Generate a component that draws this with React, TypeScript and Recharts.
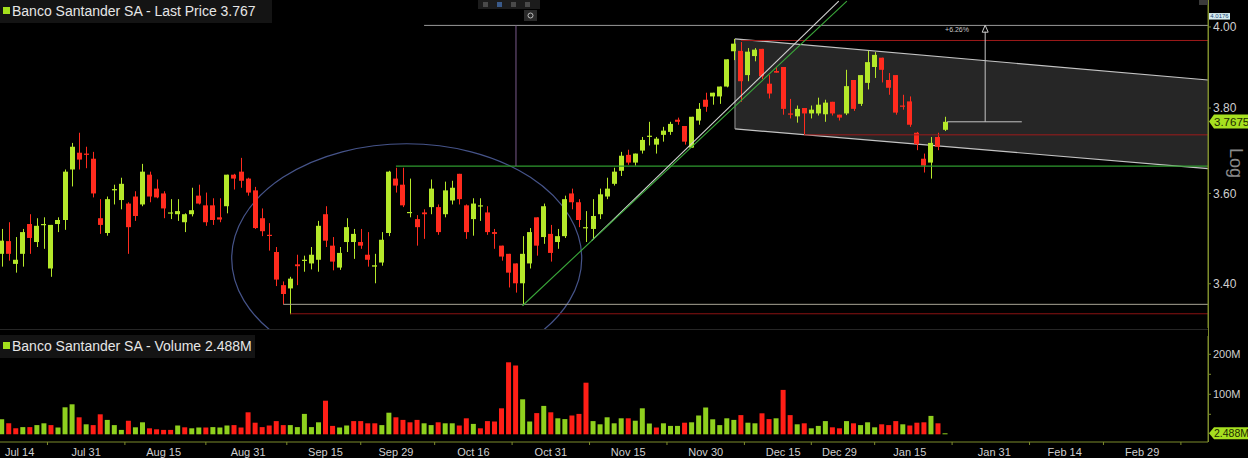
import React from 'react';
import { ComposedChart, Bar, XAxis, YAxis, Cell, ReferenceLine, ReferenceArea, ReferenceDot } from 'recharts';

// ---------------- DATA ----------------
const OPEN = [
  3.465, 3.493, 3.443, 3.465, 3.531, 3.491, 3.529, 3.433, 3.531, 3.540,
  3.655, 3.694, 3.692, 3.680, 3.544, 3.511, 3.607, 3.585, 3.577, 3.593,
  3.575, 3.643, 3.611, 3.600, 3.555, 3.553, 3.535, 3.553, 3.595, 3.573,
  3.573, 3.546, 3.571, 3.643, 3.650, 3.634, 3.607, 3.544, 3.507, 3.469,
  3.397, 3.390, 3.442, 3.450, 3.444, 3.452, 3.553, 3.483, 3.435, 3.491,
  3.491, 3.491, 3.463, 3.437, 3.446, 3.511, 3.634, 3.620, 3.557, 3.542,
  3.557, 3.569, 3.569, 3.553, 3.584, 3.645, 3.573, 3.542, 3.571, 3.557,
  3.513, 3.483, 3.465, 3.444, 3.401, 3.444, 3.546, 3.502, 3.509, 3.491,
  3.504, 3.600, 3.580, 3.522, 3.520, 3.553, 3.593, 3.622, 3.652, 3.689,
  3.671, 3.699, 3.732, 3.713, 3.736, 3.743, 3.772, 3.757, 3.706, 3.770,
  3.820, 3.828, 3.828, 3.852, 3.939, 3.940, 3.880, 3.927, 3.945, 3.859,
  3.890, 3.900, 3.787, 3.780, 3.800, 3.787, 3.787, 3.785, 3.815, 3.784,
  3.787, 3.868, 3.810, 3.861, 3.900, 3.923, 3.868, 3.880, 3.806, 3.816,
  3.741, 3.680, 3.671, 3.731, 3.748,
];
const HIGH = [
  3.520, 3.535, 3.502, 3.520, 3.553, 3.544, 3.546, 3.529, 3.546, 3.655,
  3.717, 3.741, 3.708, 3.696, 3.587, 3.593, 3.620, 3.636, 3.580, 3.605,
  3.668, 3.650, 3.632, 3.605, 3.587, 3.587, 3.555, 3.613, 3.620, 3.602,
  3.589, 3.589, 3.643, 3.645, 3.682, 3.636, 3.615, 3.566, 3.533, 3.480,
  3.405, 3.415, 3.463, 3.461, 3.480, 3.538, 3.571, 3.502, 3.480, 3.544,
  3.520, 3.520, 3.513, 3.465, 3.513, 3.652, 3.659, 3.659, 3.634, 3.551,
  3.564, 3.632, 3.575, 3.627, 3.629, 3.645, 3.575, 3.589, 3.589, 3.571,
  3.520, 3.483, 3.465, 3.444, 3.504, 3.522, 3.546, 3.577, 3.529, 3.520,
  3.595, 3.611, 3.587, 3.560, 3.587, 3.611, 3.636, 3.659, 3.696, 3.701,
  3.692, 3.731, 3.767, 3.731, 3.755, 3.767, 3.777, 3.757, 3.779, 3.812,
  3.837, 3.837, 3.852, 3.919, 3.970, 3.962, 3.947, 3.947, 3.945, 3.880,
  3.900, 3.900, 3.822, 3.806, 3.800, 3.806, 3.825, 3.820, 3.815, 3.784,
  3.893, 3.868, 3.880, 3.940, 3.937, 3.923, 3.885, 3.880, 3.832, 3.828,
  3.743, 3.692, 3.731, 3.741, 3.779,
];
const LOW = [
  3.437, 3.450, 3.424, 3.437, 3.465, 3.480, 3.476, 3.415, 3.513, 3.518,
  3.616, 3.655, 3.658, 3.591, 3.509, 3.505, 3.575, 3.564, 3.465, 3.538,
  3.571, 3.580, 3.589, 3.544, 3.542, 3.538, 3.513, 3.548, 3.575, 3.527,
  3.529, 3.535, 3.555, 3.609, 3.613, 3.595, 3.520, 3.504, 3.472, 3.395,
  3.356, 3.335, 3.397, 3.426, 3.431, 3.426, 3.480, 3.429, 3.430, 3.469,
  3.454, 3.476, 3.437, 3.401, 3.439, 3.504, 3.602, 3.569, 3.546, 3.483,
  3.498, 3.553, 3.507, 3.546, 3.575, 3.575, 3.498, 3.505, 3.538, 3.507,
  3.476, 3.450, 3.392, 3.381, 3.354, 3.433, 3.461, 3.487, 3.448, 3.476,
  3.500, 3.564, 3.524, 3.491, 3.498, 3.542, 3.587, 3.618, 3.640, 3.666,
  3.664, 3.692, 3.711, 3.692, 3.720, 3.736, 3.760, 3.713, 3.706, 3.760,
  3.791, 3.808, 3.810, 3.850, 3.917, 3.815, 3.865, 3.914, 3.870, 3.823,
  3.886, 3.784, 3.775, 3.765, 3.736, 3.775, 3.782, 3.767, 3.782, 3.770,
  3.783, 3.793, 3.805, 3.845, 3.873, 3.862, 3.832, 3.784, 3.796, 3.755,
  3.700, 3.648, 3.634, 3.700, 3.745,
];
const CLOSE = [
  3.494, 3.465, 3.452, 3.513, 3.500, 3.527, 3.531, 3.529, 3.540, 3.650,
  3.708, 3.678, 3.689, 3.600, 3.529, 3.587, 3.610, 3.622, 3.524, 3.549,
  3.650, 3.593, 3.591, 3.566, 3.557, 3.560, 3.553, 3.562, 3.577, 3.535,
  3.540, 3.541, 3.643, 3.634, 3.629, 3.602, 3.522, 3.515, 3.505, 3.409,
  3.378, 3.411, 3.438, 3.452, 3.463, 3.527, 3.494, 3.448, 3.467, 3.524,
  3.509, 3.483, 3.452, 3.440, 3.496, 3.650, 3.618, 3.573, 3.558, 3.524,
  3.553, 3.611, 3.513, 3.607, 3.613, 3.587, 3.513, 3.577, 3.573, 3.513,
  3.509, 3.459, 3.424, 3.401, 3.465, 3.513, 3.483, 3.571, 3.467, 3.504,
  3.587, 3.580, 3.540, 3.524, 3.549, 3.598, 3.611, 3.650, 3.687, 3.671,
  3.692, 3.724, 3.734, 3.727, 3.746, 3.762, 3.767, 3.720, 3.779, 3.798,
  3.803, 3.837, 3.852, 3.919, 3.958, 3.865, 3.938, 3.943, 3.877, 3.835,
  3.886, 3.798, 3.784, 3.798, 3.787, 3.796, 3.808, 3.813, 3.787, 3.777,
  3.853, 3.798, 3.880, 3.912, 3.930, 3.893, 3.849, 3.789, 3.803, 3.760,
  3.714, 3.664, 3.717, 3.708, 3.767,
];
// volume in millions
const VOLUME = [
  37.5, 27.5, 15, 18, 18, 23, 27.5, 23, 17, 67.5,
  75, 42.5, 25, 23, 50, 36, 23, 11, 34, 17.5,
  30, 15, 12.5, 11, 11, 22, 17.5, 15, 17, 17,
  18, 17, 22, 23, 17, 55, 29, 18, 22, 33,
  23, 23, 18, 51, 18, 30, 84, 21, 17, 22,
  33, 33, 27.5, 27.5, 23, 54, 42.5, 36, 30, 36,
  27.5, 23, 30, 27.5, 27.5, 22, 40, 26, 15, 33,
  32, 65, 180, 172, 87.5, 32, 53, 71, 55, 40,
  38, 47, 51, 129, 33, 25, 42.5, 27.5, 40, 40,
  34, 65, 27, 17, 27.5, 21, 21, 29, 30, 47,
  67, 37.5, 23, 40, 36, 48, 29, 27.5, 52.5, 38,
  40, 111, 48, 25, 27.5, 15, 21, 33, 17.5, 15,
  33, 27.5, 23, 30, 17.5, 25, 23, 33, 25, 22,
  29, 30, 46, 27.5, 2.488,
];

const HOLIDAYS = ['2023-12-25', '2023-12-26', '2024-01-01'];
const FIRST_DAY = '2023-07-13';
const TICK_DATES = [
  '2023-07-14', '2023-07-31', '2023-08-15', '2023-08-31', '2023-09-15', '2023-09-29',
  '2023-10-16', '2023-10-31', '2023-11-15', '2023-11-30', '2023-12-15', '2023-12-29',
  '2024-01-15', '2024-01-31', '2024-02-14', '2024-02-29',
];
const MONTHS = ['Jan', 'Feb', 'Mar', 'Apr', 'May', 'Jun', 'Jul', 'Aug', 'Sep', 'Oct', 'Nov', 'Dec'];
const PRICE_TICKS = [3.4, 3.6, 3.8, 4.0];
const VOLUME_TICKS = [50, 100, 150, 200];

// annotation values (data units: trading-day index, price)
const CHANNEL_X = [104.16, 171.35];
const CHANNEL_TOP = [3.970, 3.868];
const CHANNEL_BOTTOM = [3.750, 3.657];
const ELLIPSE_X = [32.67, 82.39];
const ELLIPSE_P = [3.213, 3.715];

// ---------------- BUILD ----------------
function buildTradingDays(start: string, count: number): string[] {
  const out: string[] = [];
  const d = new Date(start + 'T00:00:00Z');
  while (out.length < count) {
    const dow = d.getUTCDay();
    const iso = d.toISOString().slice(0, 10);
    if (dow !== 0 && dow !== 6 && HOLIDAYS.indexOf(iso) < 0) out.push(iso);
    d.setUTCDate(d.getUTCDate() + 1);
  }
  return out;
}
const TRADING_DAYS = buildTradingDays(FIRST_DAY, 180);
const fmtDate = (iso: string) => `${MONTHS[parseInt(iso.slice(5, 7), 10) - 1]} ${parseInt(iso.slice(8, 10), 10)}`;
const LABEL_IDX = TICK_DATES.map((d) => TRADING_DAYS.indexOf(d));
const LABEL_MAP: Record<number, string> = {};
LABEL_IDX.forEach((ix, k) => { LABEL_MAP[ix] = fmtDate(TICK_DATES[k]); });
const MINOR_IDX: number[] = [];
for (let k = 0; k < LABEL_IDX.length - 1; k++) MINOR_IDX.push((LABEL_IDX[k] + LABEL_IDX[k + 1]) / 2);
MINOR_IDX.push(LABEL_IDX[LABEL_IDX.length - 1] + (LABEL_IDX[LABEL_IDX.length - 1] - LABEL_IDX[LABEL_IDX.length - 2]) / 2);
const ALL_TICKS = [...LABEL_IDX, ...MINOR_IDX].sort((a, b) => a - b);

const ROWS = OPEN.map((o, i) => ({
  i,
  date: TRADING_DAYS[i],
  o,
  h: HIGH[i],
  l: LOW[i],
  c: CLOSE[i],
  hl: [LOW[i], HIGH[i]],
  v: VOLUME[i],
  volUp: i === 0 ? CLOSE[i] >= o : CLOSE[i] >= CLOSE[i - 1],
}));

// ---------------- STYLE ----------------
const W = 1248;
const H = 458;
const PRICE_H = 330;
const VOL_TOP = 330;
const VOL_H = 128;
const AXIS_W = 40;
const X_MIN = -0.2415;
const X_MAX = 171.35;
const P_DOMAIN = [3.3061, 4.0689];
const V_DOMAIN = [-19.25, 245.75];
const FONT = '"Liberation Sans", Arial, sans-serif';
const GREEN = '#b5e82a';
const RED = '#ff2b1e';
const VGREEN = '#8fd01e';
const VRED = '#ff1e16';
const OLIVE = '#7d8c2c';
const TXT = '#cfcfcf';
const LAST_TAG = '#a6e020';

const Candle = (props: any) => {
  const { x, y, width, height, payload } = props;
  if (!payload || x == null) return null;
  const { o, h, l, c } = payload;
  const color = c >= o ? GREEN : RED;
  const lh = Math.log(h);
  const span = lh - Math.log(l);
  const py = (v: number) => (span === 0 ? y : y + (height * (lh - Math.log(v))) / span);
  const top = py(Math.max(o, c));
  const bot = py(Math.min(o, c));
  const cx = Math.round(x + width / 2) + 0.5;
  const bx = Math.round(x);
  return (
    <g>
      <line x1={cx} x2={cx} y1={y} y2={y + height} stroke={color} strokeWidth={1} />
      <rect x={bx} y={top} width={Math.round(width)} height={Math.max(1.2, bot - top)} fill={color} />
    </g>
  );
};

const ChannelShape = (p: any) => {
  const { x, y, width, height } = p;
  const hi = Math.log(CHANNEL_TOP[0]);
  const lo = Math.log(CHANNEL_BOTTOM[1]);
  const py = (v: number) => y + (height * (hi - Math.log(v))) / (hi - lo);
  const x2 = x + width;
  const tl = [x, py(CHANNEL_TOP[0])];
  const tr = [x2, py(CHANNEL_TOP[1])];
  const br = [x2, py(CHANNEL_BOTTOM[1])];
  const bl = [x, py(CHANNEL_BOTTOM[0])];
  return (
    <g>
      <polygon points={[tl, tr, br, bl].map((q) => q.join(',')).join(' ')} fill="#2a2a2a" fillOpacity={0.9} />
      <line x1={tl[0]} y1={tl[1]} x2={tr[0]} y2={tr[1]} stroke="#c4c4c4" strokeWidth={1.2} />
      <line x1={bl[0]} y1={bl[1]} x2={br[0]} y2={br[1]} stroke="#c4c4c4" strokeWidth={1.2} />
      <line x1={tl[0]} y1={tl[1]} x2={bl[0]} y2={bl[1]} stroke="#9a9a9a" strokeWidth={1} />
    </g>
  );
};

const EllipseShape = (p: any) => {
  const { x, y, width, height } = p;
  return <ellipse cx={x + width / 2} cy={y + height / 2} rx={width / 2} ry={height / 2} fill="none" stroke="#46548a" strokeWidth={1.2} />;
};

const PriceTag = (p: any) => {
  const { cx, cy } = p;
  const x0 = cx + 1;
  return (
    <g>
      <polygon points={`${x0},${cy} ${x0 + 5},${cy - 7} ${x0 + 40},${cy - 7} ${x0 + 40},${cy + 7} ${x0 + 5},${cy + 7}`} fill={LAST_TAG} />
      <text x={x0 + 5} y={cy} dy="0.36em" fontSize={11.5} fontFamily={FONT} fill="#1c2a00">3.7675</text>
    </g>
  );
};

const VolTag = (p: any) => {
  const { cx, cy } = p;
  const x0 = cx + 1;
  return (
    <g>
      <polygon points={`${x0},${cy} ${x0 + 5},${cy - 6} ${x0 + 40},${cy - 6} ${x0 + 40},${cy + 6} ${x0 + 5},${cy + 6}`} fill={LAST_TAG} />
      <text x={x0 + 5} y={cy} dy="0.36em" fontSize={10.5} fontFamily={FONT} fill="#1c2a00">2.488M</text>
    </g>
  );
};

const SmallTag = (p: any) => {
  const { cx, cy } = p;
  return (
    <g>
      <rect x={cx + 1} y={cy - 7} width={21} height={6.5} fill="#d6ecef" />
      <text x={cx + 11.5} y={cy - 3.75} dy="0.35em" textAnchor="middle" fontSize={6} fontFamily={FONT} fill="#244a7a">4.0176</text>
    </g>
  );
};

const Arrow = (p: any) => {
  const { cx, cy } = p;
  return <polygon points={`${cx},${cy - 1} ${cx - 3},${cy + 6} ${cx + 3},${cy + 6}`} fill="none" stroke="#cccccc" strokeWidth={1} />;
};

const PctLabel = (p: any) => {
  const { cx, cy } = p;
  return <text x={cx} y={cy} dy="0.35em" textAnchor="middle" fontSize={7} fontFamily={FONT} fill="#c8c8c8">+6.26%</text>;
};

const TICK_SIZE = 4;
const TICK_MARGIN = 2;
const DateTick = (props: any) => {
  const { x, y, payload } = props;
  const label = LABEL_MAP[payload.value];
  const axisY = y - TICK_SIZE - TICK_MARGIN;
  if (!label) {
    return <line x1={x} x2={x} y1={axisY} y2={axisY + 3} stroke={OLIVE} strokeWidth={1} />;
  }
  const nearLeft = x < 18;
  return (
    <text x={nearLeft ? 5 : x} y={y} dy="0.71em" textAnchor={nearLeft ? 'start' : 'middle'} fill={TXT} fontSize={11} fontFamily={FONT}>
      {label}
    </text>
  );
};

const titleBox = (top: number, width: number, text: string) => (
  <div
    style={{
      position: 'absolute', left: 0, top, width, height: 23, background: '#141414',
      color: '#e6e6e6', fontFamily: FONT, fontSize: 14, lineHeight: '23px', whiteSpace: 'nowrap',
    }}
  >
    <span style={{ display: 'inline-block', width: 7, height: 7, background: '#a4e01c', margin: '0 2px 0 3px', verticalAlign: 'middle', position: 'relative', top: -2 }} />
    {text}
  </div>
);

export default function App() {
  return (
    <div style={{ position: 'absolute', left: 0, top: 0, width: W, height: H, background: '#000', overflow: 'hidden' }}>
      <div style={{ position: 'absolute', left: 0, top: 0 }}>
        <ComposedChart width={W} height={PRICE_H} data={ROWS} margin={{ top: 0, right: 0, bottom: 2, left: 0 }}>
          <XAxis type="number" dataKey="i" domain={[X_MIN, X_MAX]} allowDataOverflow hide />
          <YAxis
            orientation="right"
            width={AXIS_W}
            type="number"
            scale="log"
            domain={P_DOMAIN}
            allowDataOverflow
            ticks={PRICE_TICKS}
            interval={0}
            tickFormatter={(v: number) => v.toFixed(2)}
            axisLine={{ stroke: OLIVE }}
            tickLine={{ stroke: OLIVE }}
            tickSize={3}
            tickMargin={2}
            tick={{ fill: TXT, fontSize: 12, fontFamily: FONT }}
          />
          <ReferenceArea x1={CHANNEL_X[0]} x2={CHANNEL_X[1]} y1={CHANNEL_BOTTOM[1]} y2={CHANNEL_TOP[0]} shape={ChannelShape} ifOverflow="visible" />
          <ReferenceArea x1={ELLIPSE_X[0]} x2={ELLIPSE_X[1]} y1={ELLIPSE_P[0]} y2={ELLIPSE_P[1]} shape={EllipseShape} ifOverflow="hidden" />
          <ReferenceLine segment={[{ x: 60, y: 4.004 }, { x: X_MAX, y: 4.004 }]} stroke="#9a9a9a" strokeWidth={1} />
          <ReferenceLine segment={[{ x: 105, y: 3.966 }, { x: X_MAX, y: 3.966 }]} stroke="#9e1a1a" strokeWidth={1} />
          <ReferenceLine segment={[{ x: 114, y: 3.736 }, { x: X_MAX, y: 3.736 }]} stroke="#9e1a1a" strokeWidth={1} />
          <ReferenceLine segment={[{ x: 56, y: 3.663 }, { x: X_MAX, y: 3.663 }]} stroke="#2f9a2f" strokeWidth={1.2} />
          <ReferenceLine segment={[{ x: 40, y: 3.356 }, { x: X_MAX, y: 3.356 }]} stroke="#a8a494" strokeWidth={1} />
          <ReferenceLine segment={[{ x: 41, y: 3.336 }, { x: X_MAX, y: 3.336 }]} stroke="#8a1212" strokeWidth={1} />
          <ReferenceLine segment={[{ x: 73.05, y: 4.004 }, { x: 73.05, y: 3.663 }]} stroke="#7a5a8a" strokeWidth={1} />
          <ReferenceLine segment={[{ x: 83.8, y: 3.494 }, { x: 118.9, y: 4.066 }]} stroke="#d4d4d4" strokeWidth={1.1} />
          <ReferenceLine segment={[{ x: 73.97, y: 3.353 }, { x: 120.05, y: 4.066 }]} stroke="#3aa83a" strokeWidth={1.1} />
          <ReferenceLine segment={[{ x: 139.7, y: 3.767 }, { x: 139.7, y: 3.988 }]} stroke="#c4c4c4" strokeWidth={1} />
          <ReferenceLine segment={[{ x: 134.3, y: 3.767 }, { x: 144.9, y: 3.767 }]} stroke="#c4c4c4" strokeWidth={1} />
          <ReferenceDot x={139.7} y={4.002} shape={Arrow} ifOverflow="visible" />
          <ReferenceDot x={135.7} y={3.994} shape={PctLabel} ifOverflow="visible" />
          <Bar dataKey="hl" barSize={5} shape={Candle} isAnimationActive={false} />
          <ReferenceDot x={X_MAX} y={3.7675} shape={PriceTag} ifOverflow="visible" />
          <ReferenceDot x={X_MAX} y={4.0176} shape={SmallTag} ifOverflow="visible" />
        </ComposedChart>
      </div>
      <div style={{ position: 'absolute', left: 0, top: VOL_TOP }}>
        <ComposedChart width={W} height={VOL_H} data={ROWS} margin={{ top: 6, right: 0, bottom: 0, left: 0 }}>
          <XAxis
            type="number"
            dataKey="i"
            domain={[X_MIN, X_MAX]}
            allowDataOverflow
            ticks={ALL_TICKS}
            interval={0}
            tick={DateTick}
            tickLine={false}
            tickSize={TICK_SIZE}
            tickMargin={TICK_MARGIN}
            axisLine={{ stroke: OLIVE }}
            height={16}
          />
          <YAxis
            orientation="right"
            width={AXIS_W}
            type="number"
            domain={V_DOMAIN}
            allowDataOverflow
            ticks={VOLUME_TICKS}
            interval={0}
            tickFormatter={(v: number) => (v % 100 === 0 ? `${v}M` : '')}
            axisLine={{ stroke: OLIVE }}
            tickLine={{ stroke: OLIVE }}
            tickSize={3}
            tickMargin={2}
            tick={{ fill: TXT, fontSize: 11, fontFamily: FONT }}
          />
          <Bar dataKey="v" barSize={5} isAnimationActive={false}>
            {ROWS.map((r) => (
              <Cell key={r.date} fill={r.volUp ? VGREEN : VRED} />
            ))}
          </Bar>
          <ReferenceDot x={X_MAX} y={2.488} shape={VolTag} ifOverflow="visible" />
        </ComposedChart>
      </div>
      <svg width={W} height={H} style={{ position: 'absolute', left: 0, top: 0, pointerEvents: 'none' }}>
        <line x1={0} x2={1208} y1={329.5} y2={329.5} stroke="#262626" strokeWidth={1} />
        <line x1={1208.5} x2={1208.5} y1={0} y2={442} stroke={OLIVE} strokeWidth={1} />
        <text x={1236} y={163} transform="rotate(90 1236 163)" textAnchor="middle" dy="0.35em" fontSize={18} fontFamily={FONT} fill="#8a8a8a">Log</text>
        <rect x={478} y={0} width={62} height={9} fill="#1c1c1c" />
        <rect x={483} y={2} width={5} height={5} fill="#4a4a4a" />
        <rect x={497} y={2} width={5} height={5} fill="#3a5a8a" />
        <rect x={511} y={2} width={5} height={5} fill="#4a4a4a" />
        <rect x={525} y={2} width={5} height={5} fill="#4a4a4a" />
        <rect x={524} y={10} width={13} height={11} fill="#2a2a2a" />
        <circle cx={530.5} cy={15.5} r={2.5} fill="none" stroke="#bdbdbd" strokeWidth={1} />
        <rect x={1199} y={0} width={9} height={5} fill="#3a3a3a" />
      </svg>
      {titleBox(0, 272, 'Banco Santander SA - Last Price 3.767')}
      {titleBox(335, 255, 'Banco Santander SA - Volume 2.488M')}
    </div>
  );
}
